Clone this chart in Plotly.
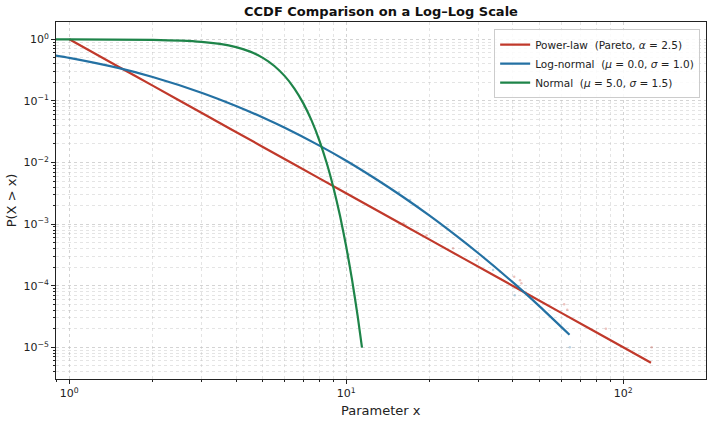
import plotly.graph_objects as go

# ---- data ----
pareto_x = [1, 1.5, 2, 3, 5, 8, 12, 20, 35, 60, 100, 126]
pareto_y = [1.0, 0.363, 0.177, 0.0642, 0.0179, 0.00552, 0.00200, 0.000559,
            0.000138, 3.59e-5, 1.0e-5, 5.6e-6]

lognorm_x = [0.85, 1, 1.5, 2, 3, 4, 5, 6, 8, 10, 13, 16, 20, 25, 30, 40, 50, 64]
lognorm_y = [0.565, 0.5, 0.343, 0.244, 0.136, 0.0828, 0.0538, 0.0366, 0.0188,
             0.0107, 0.00516, 0.00278, 0.00137, 0.000643, 0.000336, 0.000113,
             4.58e-5, 1.6e-5]

normal_x = [0.85, 1, 2, 3, 3.5, 4, 4.5, 5, 5.5, 6, 6.5, 7, 7.5, 8, 8.5, 9,
            9.5, 10, 10.5, 11, 11.4]
normal_y = [0.9972, 0.9962, 0.977, 0.909, 0.841, 0.7475, 0.631, 0.5, 0.369,
            0.2525, 0.1587, 0.0912, 0.0478, 0.02275, 0.00982, 0.00383,
            0.00135, 0.000429, 0.000123, 3.17e-5, 9.9e-6]

# faint empirical points visible off the curves
emp_pareto_x = [16.1, 19.5, 24.3, 29.6, 35.9, 40.4, 42.4, 42.9, 61.2, 62.8, 86.6, 126.7]
emp_pareto_y = [1.03e-3, 6.6e-4, 4.06e-4, 2.6e-4, 1.7e-4, 1.4e-4, 1.23e-4,
                1.1e-4, 5.0e-5, 4.06e-5, 2.0e-5, 1.0e-5]
emp_lognorm_x = [15.5, 17.0, 33.9, 40.6, 64.2]
emp_lognorm_y = [3.3e-3, 2.45e-3, 1.8e-4, 7.0e-5, 1.0e-5]
emp_normal_x = [10.2]
emp_normal_y = [3.2e-4]

x_tickvals = [1, 10, 100]
x_ticktext = ["10<sup>0</sup>", "10<sup>1</sup>", "10<sup>2</sup>"]
y_tickvals = [1, 0.1, 0.01, 0.001, 0.0001, 0.00001]
y_ticktext = ["10<sup>0</sup>", "10<sup>\u22121</sup>", "10<sup>\u22122</sup>",
              "10<sup>\u22123</sup>", "10<sup>\u22124</sup>", "10<sup>\u22125</sup>"]

names = ["Power-law  (Pareto, <i>\u03b1</i> = 2.5)",
         "Log-normal  (<i>\u03bc</i> = 0.0, <i>\u03c3</i> = 1.0)",
         "Normal  (<i>\u03bc</i> = 5.0, <i>\u03c3</i> = 1.5)"]

RED = "#c0392b"
BLUE = "#2471a3"
GREEN = "#1e8449"

fig = go.Figure()

for ex, ey, c in [(emp_pareto_x, emp_pareto_y, RED),
                  (emp_lognorm_x, emp_lognorm_y, BLUE),
                  (emp_normal_x, emp_normal_y, GREEN)]:
    fig.add_trace(go.Scatter(x=ex, y=ey, mode="markers", showlegend=False,
                             marker=dict(size=2.5, color=c, opacity=0.3),
                             hoverinfo="skip"))

for xs, ys, c, n in [(pareto_x, pareto_y, RED, names[0]),
                     (lognorm_x, lognorm_y, BLUE, names[1]),
                     (normal_x, normal_y, GREEN, names[2])]:
    fig.add_trace(go.Scatter(x=xs, y=ys, mode="lines", name=n,
                             line=dict(color=c, width=2.2, shape="spline", smoothing=0.6)))

grid_c = "rgba(190,190,190,0.42)"
axis_common = dict(
    type="log", showline=True, linecolor="#222", linewidth=1, mirror=True,
    ticks="outside", ticklen=4, tickcolor="#222", tickwidth=1,
    showgrid=True, gridcolor=grid_c, griddash="dot", gridwidth=0.8,
    zeroline=False, tickmode="array", automargin=False,
    tickfont=dict(family="DejaVu Sans", size=11, color="#222"),
    minor=dict(dtick="D1", ticks="outside", ticklen=2, tickcolor="#222",
               showgrid=True, gridcolor=grid_c, griddash="dot", gridwidth=0.6),
)

fig.update_xaxes(range=[-0.048, 2.299], tickvals=x_tickvals, ticktext=x_ticktext,
                 **axis_common)
fig.update_yaxes(range=[-5.515, 0.281], tickvals=y_tickvals, ticktext=y_ticktext,
                 **axis_common)

fig.update_layout(
    width=712, height=424,
    margin=dict(l=56, r=6, t=22, b=45),
    paper_bgcolor="white", plot_bgcolor="white",
    font=dict(family="DejaVu Sans", color="#222"),
    title=dict(text="<b>CCDF Comparison on a Log\u2013Log Scale</b>",
               x=0.5351, xanchor="center", y=0.972, yanchor="middle",
               font=dict(size=13, color="#111")),
    legend=dict(x=0.991, xanchor="right", y=0.98, yanchor="top",
                bgcolor="rgba(255,255,255,0.85)", bordercolor="#cccccc",
                borderwidth=1, font=dict(size=10.5, color="#222"),
                itemwidth=30, tracegroupgap=0),
    annotations=[
        dict(text="Parameter x", xref="paper", yref="paper", x=0.5, y=-0.087,
             xanchor="center", yanchor="middle", showarrow=False,
             font=dict(size=13, color="#222")),
        dict(text="P(X > x)", xref="paper", yref="paper", x=-0.068, y=0.5,
             xanchor="center", yanchor="middle", showarrow=False, textangle=-90,
             font=dict(size=13, color="#222")),
    ],
)

fig.write_html("out.html", config={"displayModeBar": False},
               post_script="document.body.style.margin='0';document.body.style.padding='0';")
